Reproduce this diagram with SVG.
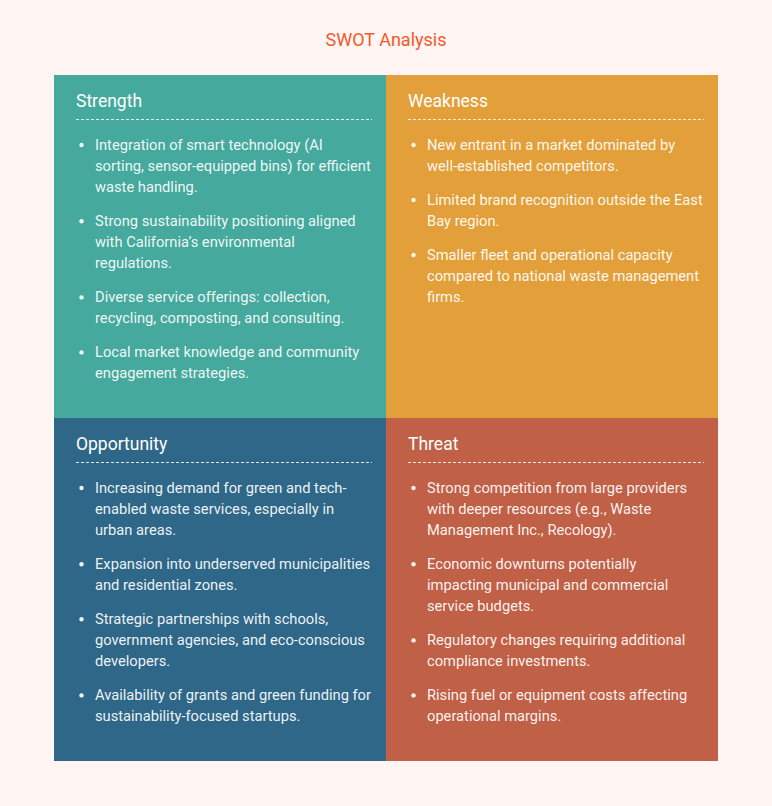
<svg xmlns="http://www.w3.org/2000/svg" width="772" height="806" viewBox="0 0 772 806">
<style>
.title{font-family:Roboto,"Liberation Sans",sans-serif;font-size:18px;fill:#F25A2C;text-anchor:middle}
.head{font-family:Roboto,"Liberation Sans",sans-serif;font-size:17.5px;fill:#FFFFFF}
.item{font-family:Roboto,"Liberation Sans",sans-serif;font-size:14.7px;fill:#FFFFFF;fill-opacity:0.93}
.dash{stroke:#FFFFFF;stroke-opacity:0.85;stroke-width:1;stroke-dasharray:3 2}
.dot{fill:#FFFFFF;fill-opacity:0.93}
</style>
<rect x="0" y="0" width="772" height="806" fill="#FFF5F2"/>
<text class="title" x="386" y="46">SWOT Analysis</text>

<g id="strength">
<rect x="54" y="75" width="332" height="343" fill="#45A99D"/>
<text class="head" x="76" y="107">Strength</text>
<line class="dash" x1="76" y1="119.5" x2="372" y2="119.5"/>
<circle class="dot" cx="81.5" cy="145" r="2.2"/>
<text class="item" x="95" y="149.5">Integration of smart technology (AI</text>
<text class="item" x="95" y="170.7">sorting, sensor-equipped bins) for efficient</text>
<text class="item" x="95" y="191.9">waste handling.</text>
<circle class="dot" cx="81.5" cy="221.2" r="2.2"/>
<text class="item" x="95" y="225.7">Strong sustainability positioning aligned</text>
<text class="item" x="95" y="246.9">with California’s environmental</text>
<text class="item" x="95" y="268.1">regulations.</text>
<circle class="dot" cx="81.5" cy="297.4" r="2.2"/>
<text class="item" x="95" y="301.9">Diverse service offerings: collection,</text>
<text class="item" x="95" y="323.1">recycling, composting, and consulting.</text>
<circle class="dot" cx="81.5" cy="352.4" r="2.2"/>
<text class="item" x="95" y="356.9">Local market knowledge and community</text>
<text class="item" x="95" y="378.1">engagement strategies.</text>
</g>

<g id="weakness">
<rect x="386" y="75" width="332" height="343" fill="#E3A03A"/>
<text class="head" x="408" y="107">Weakness</text>
<line class="dash" x1="408" y1="119.5" x2="704" y2="119.5"/>
<circle class="dot" cx="413.5" cy="145" r="2.2"/>
<text class="item" x="427" y="149.5">New entrant in a market dominated by</text>
<text class="item" x="427" y="170.7">well-established competitors.</text>
<circle class="dot" cx="413.5" cy="200" r="2.2"/>
<text class="item" x="427" y="204.5">Limited brand recognition outside the East</text>
<text class="item" x="427" y="225.7">Bay region.</text>
<circle class="dot" cx="413.5" cy="255" r="2.2"/>
<text class="item" x="427" y="259.5">Smaller fleet and operational capacity</text>
<text class="item" x="427" y="280.7">compared to national waste management</text>
<text class="item" x="427" y="301.9">firms.</text>
</g>

<g id="opportunity">
<rect x="54" y="418" width="332" height="343" fill="#2F6788"/>
<text class="head" x="76" y="450">Opportunity</text>
<line class="dash" x1="76" y1="462.5" x2="372" y2="462.5"/>
<circle class="dot" cx="81.5" cy="488" r="2.2"/>
<text class="item" x="95" y="492.5">Increasing demand for green and tech-</text>
<text class="item" x="95" y="513.7">enabled waste services, especially in</text>
<text class="item" x="95" y="534.9">urban areas.</text>
<circle class="dot" cx="81.5" cy="564.2" r="2.2"/>
<text class="item" x="95" y="568.7">Expansion into underserved municipalities</text>
<text class="item" x="95" y="589.9">and residential zones.</text>
<circle class="dot" cx="81.5" cy="619.2" r="2.2"/>
<text class="item" x="95" y="623.7">Strategic partnerships with schools,</text>
<text class="item" x="95" y="644.9">government agencies, and eco-conscious</text>
<text class="item" x="95" y="666.1">developers.</text>
<circle class="dot" cx="81.5" cy="695.4" r="2.2"/>
<text class="item" x="95" y="699.9">Availability of grants and green funding for</text>
<text class="item" x="95" y="721.1">sustainability-focused startups.</text>
</g>

<g id="threat">
<rect x="386" y="418" width="332" height="343" fill="#C06047"/>
<text class="head" x="408" y="450">Threat</text>
<line class="dash" x1="408" y1="462.5" x2="704" y2="462.5"/>
<circle class="dot" cx="413.5" cy="488" r="2.2"/>
<text class="item" x="427" y="492.5">Strong competition from large providers</text>
<text class="item" x="427" y="513.7">with deeper resources (e.g., Waste</text>
<text class="item" x="427" y="534.9">Management Inc., Recology).</text>
<circle class="dot" cx="413.5" cy="564.2" r="2.2"/>
<text class="item" x="427" y="568.7">Economic downturns potentially</text>
<text class="item" x="427" y="589.9">impacting municipal and commercial</text>
<text class="item" x="427" y="611.1">service budgets.</text>
<circle class="dot" cx="413.5" cy="640.4" r="2.2"/>
<text class="item" x="427" y="644.9">Regulatory changes requiring additional</text>
<text class="item" x="427" y="666.1">compliance investments.</text>
<circle class="dot" cx="413.5" cy="695.4" r="2.2"/>
<text class="item" x="427" y="699.9">Rising fuel or equipment costs affecting</text>
<text class="item" x="427" y="721.1">operational margins.</text>
</g>
</svg>
